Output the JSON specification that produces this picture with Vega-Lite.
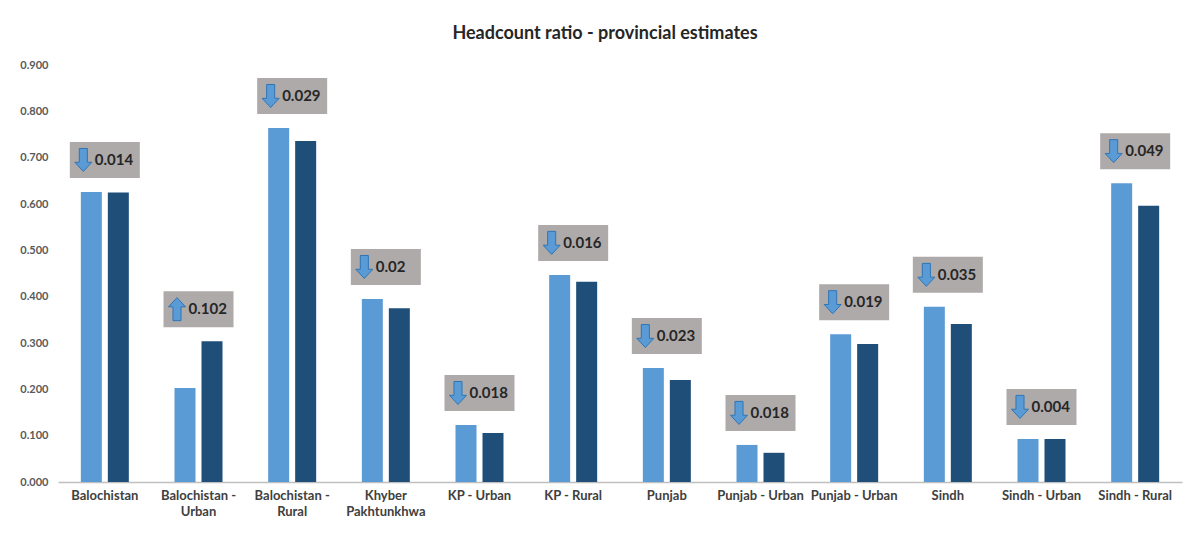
{
  "$schema": "https://vega.github.io/schema/vega-lite/v6.json",
  "autosize": "none",
  "width": 1124,
  "height": 417,
  "padding": {"left": 58, "top": 65, "right": 5, "bottom": 66},
  "background": "white",
  "title": {
    "text": "Headcount ratio - provincial estimates",
    "anchor": "middle",
    "font": "Lato",
    "fontSize": 18,
    "fontWeight": "bold",
    "color": "#262626",
    "offset": 16,
    "dx": -15
  },
  "config": {
    "view": {"stroke": null},
    "font": "Lato"
  },
  "data": {
    "values": [
      {"region": "Balochistan", "series": "Series 1", "value": 0.626, "change": "0.014", "dir": "down"},
      {"region": "Balochistan", "series": "Series 2", "value": 0.625, "change": "0.014", "dir": "down"},
      {"region": "Balochistan - Urban", "series": "Series 1", "value": 0.203, "change": "0.102", "dir": "up"},
      {"region": "Balochistan - Urban", "series": "Series 2", "value": 0.304, "change": "0.102", "dir": "up"},
      {"region": "Balochistan - Rural", "series": "Series 1", "value": 0.764, "change": "0.029", "dir": "down"},
      {"region": "Balochistan - Rural", "series": "Series 2", "value": 0.736, "change": "0.029", "dir": "down"},
      {"region": "Khyber Pakhtunkhwa", "series": "Series 1", "value": 0.395, "change": "0.02", "dir": "down"},
      {"region": "Khyber Pakhtunkhwa", "series": "Series 2", "value": 0.375, "change": "0.02", "dir": "down"},
      {"region": "KP - Urban", "series": "Series 1", "value": 0.123, "change": "0.018", "dir": "down"},
      {"region": "KP - Urban", "series": "Series 2", "value": 0.106, "change": "0.018", "dir": "down"},
      {"region": "KP - Rural", "series": "Series 1", "value": 0.447, "change": "0.016", "dir": "down"},
      {"region": "KP - Rural", "series": "Series 2", "value": 0.432, "change": "0.016", "dir": "down"},
      {"region": "Punjab", "series": "Series 1", "value": 0.246, "change": "0.023", "dir": "down"},
      {"region": "Punjab", "series": "Series 2", "value": 0.220, "change": "0.023", "dir": "down"},
      {"region": "Punjab - Urban", "series": "Series 1", "value": 0.080, "change": "0.018", "dir": "down"},
      {"region": "Punjab - Urban", "series": "Series 2", "value": 0.063, "change": "0.018", "dir": "down"},
      {"region": "Punjab - Urban ", "series": "Series 1", "value": 0.319, "change": "0.019", "dir": "down"},
      {"region": "Punjab - Urban ", "series": "Series 2", "value": 0.298, "change": "0.019", "dir": "down"},
      {"region": "Sindh", "series": "Series 1", "value": 0.378, "change": "0.035", "dir": "down"},
      {"region": "Sindh", "series": "Series 2", "value": 0.341, "change": "0.035", "dir": "down"},
      {"region": "Sindh - Urban", "series": "Series 1", "value": 0.093, "change": "0.004", "dir": "down"},
      {"region": "Sindh - Urban", "series": "Series 2", "value": 0.093, "change": "0.004", "dir": "down"},
      {"region": "Sindh - Rural", "series": "Series 1", "value": 0.645, "change": "0.049", "dir": "down"},
      {"region": "Sindh - Rural", "series": "Series 2", "value": 0.596, "change": "0.049", "dir": "down"}
    ]
  },
  "encoding": {
    "x": {
      "field": "region",
      "type": "nominal",
      "sort": null,
      "scale": {"paddingInner": 0.4876, "paddingOuter": 0.2438},
      "axis": {
        "title": null,
        "labelAngle": 0,
        "labelExpr": "datum.value == 'Balochistan - Urban' ? ['Balochistan -', 'Urban'] : datum.value == 'Balochistan - Rural' ? ['Balochistan -', 'Rural'] : datum.value == 'Khyber Pakhtunkhwa' ? ['Khyber', 'Pakhtunkhwa'] : trim(datum.value)",
        "ticks": false,
        "domainColor": "#bfbfbf",
        "domainWidth": 1.5,
        "labelPadding": 7,
        "labelFont": "Lato",
        "labelFontSize": 13,
        "labelFontWeight": "bold",
        "labelColor": "#404040",
        "labelLineHeight": 16,
        "labelBaseline": "top"
      }
    }
  },
  "layer": [
    {
      "mark": {"type": "bar"},
      "encoding": {
        "xOffset": {"field": "series", "type": "nominal", "scale": {"paddingInner": 0.222}},
        "y": {
          "field": "value",
          "type": "quantitative",
          "scale": {"domain": [0, 0.9], "nice": false},
          "axis": {
            "title": null,
            "values": [0, 0.1, 0.2, 0.3, 0.4, 0.5, 0.6, 0.7, 0.8, 0.9],
            "format": ".3f",
            "grid": false,
            "domain": false,
            "ticks": false,
            "labelPadding": 10,
            "labelFont": "Lato",
            "labelFontSize": 11,
            "labelFontWeight": "bold",
            "labelColor": "#595959"
          }
        },
        "color": {
          "field": "series",
          "type": "nominal",
          "scale": {"domain": ["Series 1", "Series 2"], "range": ["#5b9bd5", "#1f4e79"]},
          "legend": null
        }
      }
    },
    {
      "transform": [
        {"aggregate": [{"op": "max", "field": "value", "as": "top"}], "groupby": ["region", "change", "dir"]}
      ],
      "layer": [
        {
          "mark": {
            "type": "point",
            "filled": true,
            "opacity": 1,
            "shape": "M-1,-0.514L1,-0.514L1,0.514L-1,0.514Z",
            "size": 4900,
            "color": "#aeaaaa",
            "strokeWidth": 0,
            "yOffset": -32
          },
          "encoding": {
            "y": {"field": "top", "type": "quantitative"}
          }
        },
        {
          "mark": {
            "type": "point",
            "filled": true,
            "opacity": 1,
            "size": 529,
            "fill": "#5b9bd5",
            "stroke": "#2e75b6",
            "strokeWidth": 1,
            "xOffset": -21.5,
            "yOffset": -32
          },
          "encoding": {
            "y": {"field": "top", "type": "quantitative"},
            "shape": {
              "field": "dir",
              "type": "nominal",
              "scale": {
                "domain": ["down", "up"],
                "range": [
                  "M-0.35,-1L0.35,-1L0.35,0.2L0.74,0.2L0,1L-0.74,0.2L-0.35,0.2Z",
                  "M-0.35,1L0.35,1L0.35,-0.2L0.74,-0.2L0,-1L-0.74,-0.2L-0.35,-0.2Z"
                ]
              },
              "legend": null
            }
          }
        },
        {
          "mark": {
            "type": "text",
            "align": "left",
            "baseline": "middle",
            "dx": -10,
            "dy": -32,
            "font": "Lato",
            "fontSize": 15,
            "fontWeight": "bold",
            "color": "#262626"
          },
          "encoding": {
            "y": {"field": "top", "type": "quantitative"},
            "text": {"field": "change", "type": "nominal"}
          }
        }
      ]
    }
  ]
}
